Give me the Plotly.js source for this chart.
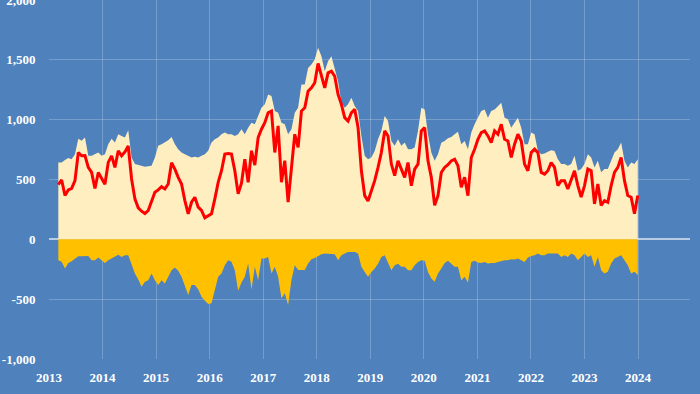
<!DOCTYPE html>
<html>
<head>
<meta charset="utf-8">
<script src="https://cdn.plot.ly/plotly-3.0.1.min.js"></script>
<style>
html,body{margin:0;padding:0;background:#4f81bd;}
#chart{width:700px;height:394px;}
</style>
</head>
<body>
<div id="chart"></div>
<script>
// Regular (roughly 3-weekly) time index, in decimal years
const startYear = 2013.174;
const stepYears = 0.06219;

// Red line series
const lineValues = [
457,496,366,413,426,490,726,698,700,601,559,425,559,504,460,643,698,601,740,698,730,780,504,338,263,235,216,241,324,393,413,
440,421,462,640,587,518,462,324,213,310,352,269,241,180,199,213,338,476,573,712,717,712,573,380,470,670,476,740,620,850,
920,975,1058,1072,726,948,477,657,311,601,878,768,1072,1100,1238,1266,1308,1470,1377,1266,1391,1405,1363,1211,1128,1017,989,1058,1086,934,
573,365,320,407,490,601,725,906,864,629,532,656,587,518,642,448,587,628,906,933,656,518,285,365,559,601,623,656,670,615,
435,518,365,684,753,836,892,906,864,809,906,878,961,836,822,684,795,878,822,629,573,725,753,725,559,545,573,642,601,449,
490,490,421,504,573,449,352,449,587,573,296,463,283,324,310,449,560,601,684,490,366,352,215,366
];

// Upper (positive) area series
const upperValues = [
643,643,662,679,670,712,840,823,850,698,698,712,726,698,712,795,840,809,878,864,850,911,684,629,620,612,607,610,615,684,781,
795,809,828,856,795,753,726,712,698,684,690,684,698,712,740,809,836,850,878,892,878,878,864,878,920,878,933,975,961,1030,
1100,1128,1211,1197,1072,1058,975,962,878,920,1058,1100,1294,1294,1432,1460,1502,1600,1530,1405,1488,1529,1419,1322,1142,1100,1128,1183,1114,1072,
864,698,670,684,739,836,906,1030,989,822,781,836,781,809,753,753,767,906,1099,1085,878,725,656,712,808,822,845,856,878,900,
795,822,753,892,961,1016,1072,1086,1016,1072,1086,1113,1141,1016,1003,933,975,1016,933,795,795,892,878,739,712,717,731,745,739,670,
629,629,615,629,698,573,587,629,712,684,601,657,560,587,587,657,726,753,809,657,601,643,629,670
];

// Lower (negative) area series
const lowerValues = [
-175,-188,-244,-197,-183,-161,-141,-141,-141,-139,-175,-175,-152,-175,-197,-175,-161,-147,-128,-147,-133,-133,-216,-285,-335,-396,-355,-341,-285,-341,-382,
-341,-369,-313,-258,-236,-263,-313,-382,-465,-382,-382,-418,-479,-513,-540,-535,-424,-313,-285,-216,-175,-188,-258,-430,-360,-313,-202,-420,-230,-341,
-160,-160,-147,-285,-230,-313,-493,-451,-548,-340,-216,-257,-257,-257,-202,-166,-155,-141,-124,-119,-119,-119,-124,-174,-133,-119,-105,-105,-105,-119,
-230,-272,-313,-272,-244,-203,-147,-133,-203,-258,-216,-203,-230,-230,-258,-258,-216,-189,-175,-180,-272,-327,-355,-286,-244,-197,-180,-203,-230,-230,
-341,-313,-360,-189,-180,-194,-197,-189,-202,-197,-197,-189,-180,-175,-175,-166,-169,-161,-175,-189,-152,-139,-133,-119,-133,-133,-119,-119,-119,-119,
-147,-133,-147,-119,-133,-174,-147,-119,-147,-133,-230,-147,-258,-285,-271,-202,-160,-147,-133,-174,-216,-285,-271,-299
];

const xTickVals = [2013,2014,2015,2016,2017,2018,2019,2020,2021,2022,2023,2024];
const xTickText = ['2013','2014','2015','2016','2017','2018','2019','2020','2021','2022','2023','2024'];
const yTickVals = [-1000,-500,0,500,1000,1500,2000];
const yTickText = ['-1,000','-500','0','500','1,000','1,500','2,000'];

const dates = lineValues.map((_, i) => startYear + i * stepYears);

const font = {family: '"Liberation Serif", "Times New Roman", serif', size: 13, color: '#ffffff', weight: 'bold'};

const traces = [
  {x: dates, y: upperValues, type: 'scatter', mode: 'lines', fill: 'tozeroy',
   fillcolor: '#ffefc0', line: {width: 0, color: '#ffefc0'}, hoverinfo: 'skip'},
  {x: dates, y: lowerValues, type: 'scatter', mode: 'lines', fill: 'tozeroy',
   fillcolor: '#ffc000', line: {width: 0, color: '#ffc000'}, hoverinfo: 'skip'},
  {x: dates, y: lineValues, type: 'scatter', mode: 'lines',
   line: {width: 3, color: '#ff0000'}, hoverinfo: 'skip'}
];

const layout = {
  width: 700, height: 394,
  margin: {l: 49, r: 10, t: 0, b: 35},
  paper_bgcolor: '#4f81bd', plot_bgcolor: '#4f81bd',
  showlegend: false,
  font: font,
  xaxis: {
    range: [2013, 2024.97], tickvals: xTickVals, ticktext: xTickText,
    showgrid: true, gridcolor: 'rgba(255,255,255,0.22)', gridwidth: 1,
    zeroline: false, showline: false,
    ticks: 'outside', ticklen: 6, tickcolor: 'rgba(0,0,0,0)',
    tickfont: font, automargin: false
  },
  yaxis: {
    range: [-1000, 2000], tickvals: yTickVals, ticktext: yTickText,
    showgrid: true, gridcolor: 'rgba(255,255,255,0.22)', gridwidth: 1,
    zeroline: true, zerolinecolor: 'rgba(255,255,255,0.6)', zerolinewidth: 2,
    showline: false, ticklabeloverflow: 'allow',
    ticks: 'outside', ticklen: 10, tickcolor: 'rgba(0,0,0,0)',
    tickfont: font, automargin: false
  }
};

Plotly.newPlot('chart', traces, layout, {staticPlot: true, displayModeBar: false});
</script>
</body>
</html>
